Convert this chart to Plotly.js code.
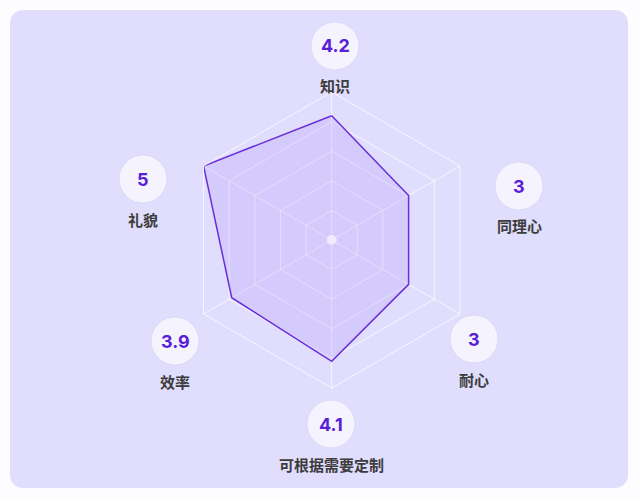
<!DOCTYPE html>
<html>
<head>
<meta charset="utf-8">
<script src="https://cdn.plot.ly/plotly-3.0.1.min.js"></script>
<style>
  body { margin: 0; background: #fdfdff; }
  #card {
    position: absolute; left: 10px; top: 10px;
    width: 618px; height: 478px;
    border-radius: 13px; background: #e0ddfd;
  }
  #radar { position: absolute; left: 0; top: 0; width: 640px; height: 501px; }
</style>
</head>
<body>
<div id="card"></div>
<div id="radar"></div>
<script>
// data
const categories = ['知识', '同理心', '耐心', '可根据需要定制', '效率', '礼貌'];
const scores = [4.2, 3, 3, 4.1, 3.9, 5];
const ringVals = [1, 2, 3, 4, 5];

// where each badge sits on the page (pixels)
const badgeX = [335, 519, 474, 331, 175, 143];
const badgeY = [46, 186, 339, 424, 341, 179];

const W = 640, H = 501;
const px = x => x / W;
const py = y => 1 - y / H;

const trace = {
  type: 'scatterpolar',
  r: scores.concat(scores[0]),
  theta: categories.concat(categories[0]),
  mode: 'lines',
  fill: 'toself',
  fillcolor: 'rgba(176,146,246,0.25)',
  line: { color: '#6a2fd8', width: 1.5 },
  hoverinfo: 'skip'
};

const gridCol = 'rgba(255,255,255,0.75)';

const shapes = [];
const annotations = [];

// little dot in the middle
shapes.push({
  type: 'circle', xref: 'paper', yref: 'paper',
  xsizemode: 'pixel', ysizemode: 'pixel',
  xanchor: px(331.7), yanchor: py(240),
  x0: -5, x1: 5, y0: -5, y1: 5,
  fillcolor: 'rgba(245,240,255,0.8)', line: { width: 0 }
});

categories.forEach((c, i) => {
  shapes.push({
    type: 'circle', xref: 'paper', yref: 'paper',
    xsizemode: 'pixel', ysizemode: 'pixel',
    xanchor: px(badgeX[i]), yanchor: py(badgeY[i]),
    x0: -24, x1: 24, y0: -24, y1: 24,
    fillcolor: '#f4f3fe', line: { color: 'rgba(210,205,242,0.6)', width: 1 }
  });
  annotations.push({
    xref: 'paper', yref: 'paper',
    x: px(badgeX[i]), y: py(badgeY[i]),
    text: String(scores[i]), showarrow: false,
    xanchor: 'center', yanchor: 'middle',
    font: { family: 'Inter, "Noto Sans", sans-serif', size: 18, weight: 700, color: '#5a1ed6' }
  });
  annotations.push({
    xref: 'paper', yref: 'paper',
    x: px(badgeX[i]), y: py(badgeY[i] + 40),
    text: c, showarrow: false,
    xanchor: 'center', yanchor: 'middle',
    font: { family: '"Noto Sans CJK SC", sans-serif', size: 15, weight: 700, color: '#3c3c3c' }
  });
});

const layout = {
  width: W, height: H,
  margin: { l: 0, r: 0, t: 0, b: 0 },
  paper_bgcolor: 'rgba(0,0,0,0)',
  showlegend: false,
  polar: {
    domain: { x: [(331.7 - 148) / W, (331.7 + 148) / W], y: [(H - 388) / H, (H - 92) / H] },
    bgcolor: 'rgba(0,0,0,0)',
    gridshape: 'linear',
    angularaxis: {
      rotation: 90, direction: 'clockwise',
      showticklabels: false, ticks: '',
      gridcolor: gridCol, linecolor: gridCol, showline: true, linewidth: 1
    },
    radialaxis: {
      range: [0, 5], tickvals: ringVals,
      showticklabels: false, ticks: '', showline: false,
      gridcolor: gridCol
    }
  },
  shapes: shapes,
  annotations: annotations
};

Plotly.newPlot('radar', [trace], layout, { displayModeBar: false, staticPlot: true });
</script>
</body>
</html>
